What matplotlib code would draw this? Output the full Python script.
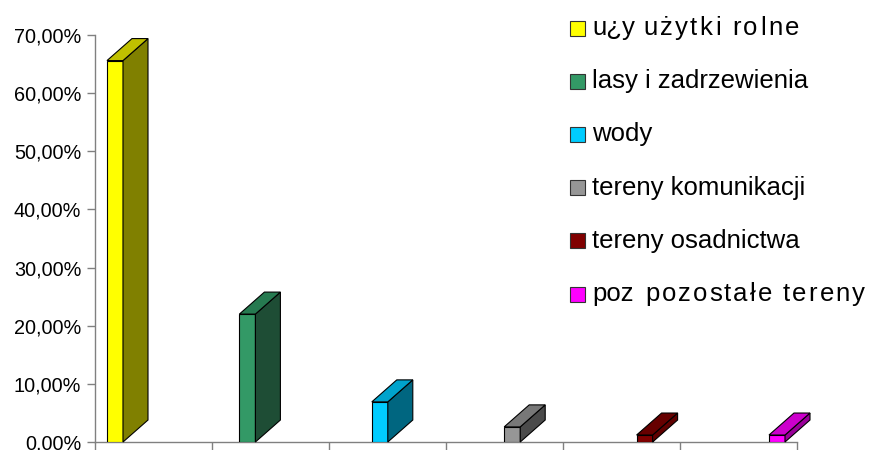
import matplotlib
matplotlib.use("Agg")
import matplotlib.pyplot as plt
from matplotlib.patches import Polygon, Rectangle
from matplotlib.ticker import FuncFormatter
from matplotlib.font_manager import FontProperties
from matplotlib.textpath import TextToPath
import numpy as np

plt.rcParams['font.family'] = ['Liberation Sans', 'DejaVu Sans']

# ---- data ----
categories = ["użytki rolne", "lasy i zadrzewienia", "wody",
              "tereny komunikacji", "tereny osadnictwa", "pozostałe tereny"]
legend_labels = ["u¿y", "lasy i zadrzewienia", "wody",
                 "tereny komunikacji", "tereny osadnictwa", "poz"]
overlay_labels = {0: "użytki rolne", 5: "pozostałe tereny"}
values = [65.6, 22.0, 6.9, 2.6, 1.2, 1.2]
front_colors = ["#FFFF00", "#339966", "#00CCFF", "#969696", "#800000", "#FF00FF"]
top_colors = ["#C0C000", "#267A50", "#00A3CC", "#787878", "#660000", "#CC00CC"]
side_colors = ["#808000", "#1E4D35", "#006680", "#4B4B4B", "#600000", "#990099"]
yticks = [0, 10, 20, 30, 40, 50, 60, 70]

W, H = 874, 450
DPI = 100
fig = plt.figure(figsize=(W / DPI, H / DPI), dpi=DPI)
ax_left, ax_right, ax_bottom, ax_top = 95, 797, 442, 35
ax = fig.add_axes([ax_left / W, 1 - ax_bottom / H,
                   (ax_right - ax_left) / W, (ax_bottom - ax_top) / H])

step_px = 132.4
first_px = 115
xlim = ((ax_left - first_px) / step_px, (ax_right - first_px) / step_px)
ax.set_xlim(*xlim)
ax.set_ylim(0, 70)

px_per_y = (ax_bottom - ax_top) / 70.0
bw = 16 / step_px
dx = 25 / step_px
dy = 22 / px_per_y

x = np.arange(len(values))
ax.bar(x, values, width=bw, color=front_colors, edgecolor="black",
       linewidth=0.8, zorder=3)
for xi, v, tc, sc in zip(x, values, top_colors, side_colors):
    l, r = xi - bw / 2, xi + bw / 2
    top = Polygon([(l, v), (r, v), (r + dx, v + dy), (l + dx, v + dy)],
                  closed=True, facecolor=tc, edgecolor="black", linewidth=0.8,
                  zorder=3, clip_on=False)
    side = Polygon([(r, 0), (r + dx, dy), (r + dx, v + dy), (r, v)],
                   closed=True, facecolor=sc, edgecolor="black", linewidth=0.8,
                   zorder=3, clip_on=False)
    ax.add_patch(side)
    ax.add_patch(top)

ax.set_xticks(np.linspace(xlim[0], xlim[1], len(values) + 1))
ax.set_xticklabels([])
ax.set_yticks(yticks)
ax.yaxis.set_major_formatter(FuncFormatter(lambda v, p: f"{v:.2f}%".replace(".", ",")))
for s in ["top", "right"]:
    ax.spines[s].set_visible(False)
for s in ["left", "bottom"]:
    ax.spines[s].set_color("#808080")
    ax.spines[s].set_linewidth(1.0)
ax.tick_params(axis="both", direction="out", length=6, width=1.0,
               color="#808080", labelsize=14.3, pad=4)

# ---- legend (manual) ----
centers = [28, 81, 134, 188, 241, 294]
legend_fs = 18.5
for i, (lab, fc, cy) in enumerate(zip(legend_labels, front_colors, centers)):
    fig.patches.append(Rectangle((570 / W, 1 - (cy + 7.5) / H), 15 / W, 15 / H,
                                 transform=fig.transFigure, facecolor=fc,
                                 edgecolor="#333333", linewidth=0.8))
    fig.text(592 / W, 1 - cy / H, lab, fontsize=legend_fs, va="center", ha="left")

# overlay labels drawn with wide letter spacing
t2p = TextToPath()
prop = FontProperties(family="Liberation Sans", size=legend_fs)


def text_w_px(s):
    w, _, _ = t2p.get_text_width_height_descent(s, prop, ismath=False)
    return w * DPI / 72.0


overlay_span = {0: (643, 799), 5: (645, 865)}
for i, lab in overlay_labels.items():
    cy = centers[i]
    x0, x1 = overlay_span[i]
    natural = text_w_px(lab)
    track = max(0.0, (x1 - x0 - natural) / (len(lab) - 1))
    ref = text_w_px("|")
    for k, ch in enumerate(lab):
        off = text_w_px(lab[:k] + "|") - ref + k * track
        fig.text((x0 + off) / W, 1 - (cy + 7) / H, ch, fontproperties=prop,
                 va="baseline", ha="left")

fig.savefig("out.png", dpi=DPI)
